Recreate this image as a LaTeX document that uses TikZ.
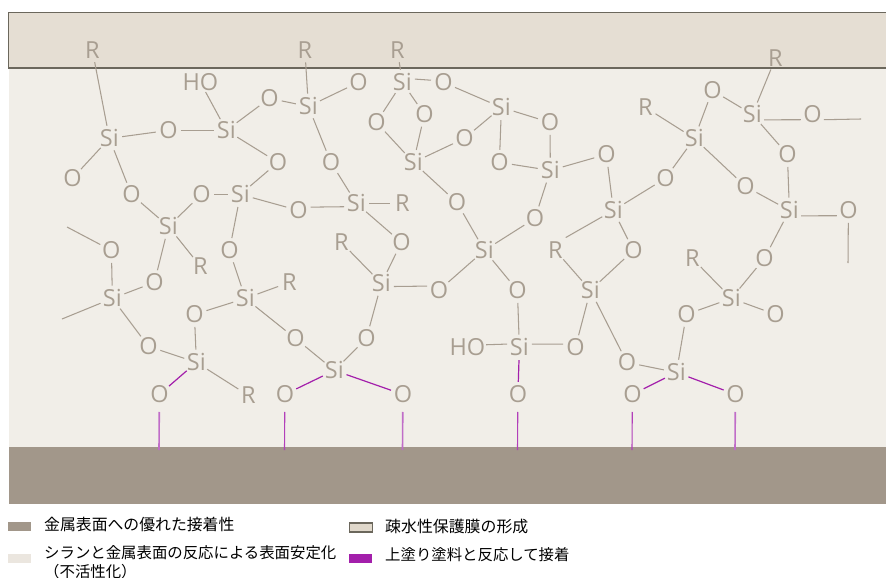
\documentclass[tikz,border=0pt]{standalone}
\usepackage{fontspec}
\setmainfont{Open Sans}
\newfontfamily\jpf{Noto Sans CJK JP}
\definecolor{chemc}{HTML}{A89E91}
\definecolor{pur}{HTML}{A31FAB}
\definecolor{purl}{HTML}{C06DC8}
\definecolor{purm}{HTML}{B23FBA}
\definecolor{bodyc}{HTML}{F1EEE8}
\definecolor{topc}{HTML}{E5DED3}
\definecolor{edgec}{HTML}{6B675C}
\definecolor{basec}{HTML}{A2978A}
\definecolor{sw2}{HTML}{EBE6DF}
\definecolor{sw3}{HTML}{E0D8CB}
\begin{document}
\begin{tikzpicture}[x=1pt,y=-1pt,
  chem/.style={circle,inner sep=0pt,outer sep=0pt,minimum size=24pt,xshift=0.4pt,yshift=-0.4pt,text=chemc,font=\fontsize{23.5}{25}\selectfont},
  chemw/.style={rectangle,inner sep=1pt,outer sep=0pt,xshift=0.4pt,yshift=-0.4pt,text=chemc,font=\fontsize{23.5}{25}\selectfont},
  bond/.style={draw=chemc,line width=1.05pt},
  pbond/.style={draw=pur,line width=1.2pt},
  legt/.style={anchor=west,inner sep=0pt,font=\jpf\fontsize{15.4}{20}\selectfont,text=black},
  swatch/.style={minimum width=23pt,minimum height=9pt,inner sep=0pt,outer sep=0pt,anchor=north west}]
\path[use as bounding box] (0,0) rectangle (886,578);
\fill[bodyc] (9,68) rectangle (886,447);
\filldraw[fill=topc,draw=edgec,line width=1.2pt] (8.5,12.5) rectangle (890,68);
\fill[basec] (9,447) rectangle (886,504);
% silicon
\foreach \n/\x/\y in {a1/109/138,a2/226/130,a3/308/106,a4/402/82,a5/240/194,a6/356/203,a7/168/226,a8/381/283,a9/245/298,a10/112/298,a11/196/362,a12/334/370,b1/484/250,b2/519/347,b3/590/290,b4/613/210,b5/550/170,b6/501/107,b7/413/162,c1/694/138,c2/752/114,c3/789/210,c4/731/298,c5/676/372}
  \node[chem] (\n) at (\x,\y) {Si};
% oxygen
\foreach \n/\x/\y in {o1/168/130,o2/72/178,o3/131/194,o4/269/98,o5/277.5/162,o6/358/82,o7/330.5/162,o8/443/82,o9/376/122,o10/424/114,o11/464/138,o12/456.5/202,o13/549.5/122,o14/499/162,o15/606/154,o16/534.5/218,o17/665/178,o18/633/250,o19/575/347,o20/626.5/362,o21/438.5/290,o22/517/290,o23/201/194,o24/298/210,o25/229/250,o26/401/242,o27/366/338,o28/154/282,o29/111/250,o30/148/346,o31/194/314,o32/295/338,o33/712/90,o34/745/186,o35/812/114,o36/787/154,o37/848/210,o38/764/258,o39/686/314,o40/775/314,p1/159/394,p2/284.5/394,p3/402.5/394,p4/517.5/394,p5/632/394,p6/735/394}
  \node[chem] (\n) at (\x,\y) {O};
% R groups
\foreach \n/\x/\y in {r1/92/50,r2/304.5/50,r3/397/50,r4/402/203,r5/200/266,r6/341/242,r7/289/282,r8/248/395,r9/555/250,r10/645/107,r11/775/58,r12/692/258}
  \node[chem] (\n) at (\x,\y) {R};
\node[chemw] (h1) at (200,82) {HO};
\node[chemw] (h2) at (467,347) {HO};
\coordinate (f1) at (67,227);
\coordinate (f2) at (62,319);
\coordinate (f3) at (861,119);
\coordinate (f4) at (848,263);
\foreach \n/\x in {1/159,2/284.5,3/402.5,4/517.5,5/632,6/735}
  \coordinate (s\n) at (\x,450);
% bonds
\foreach \a/\b in {r1/a1,a1/o1,o1/a2,a1/o2,a1/o3,o3/a7,a2/h1,a2/o4,o4/a3,a2/o5,o5/a5,a3/r2,a3/o6,a3/o7,o7/a6,a4/r3,o8/b6,a4/o9,o9/b7,a4/o10,o10/b7,b7/o11,o11/b6,b7/o12,o12/b1,b6/o13,o13/b5,b6/o14,o14/b5,b5/o15,o15/b4,b5/o16,o16/b1,b4/o17,o17/c1,r9/b3,b4/o18,o18/b3,b3/o20,o20/c5,b3/o19,b1/o21,b1/o22,o22/b2,a5/o23,o23/a7,a5/o24,a5/o25,o25/a9,a6/r4,a6/o26,o26/a8,a8/r6,a8/o27,o27/a12,a7/r5,a7/o28,o28/a10,o29/a10,o29/f1,a10/f2,a10/o30,o30/a11,a9/r7,a9/o31,o31/a11,a9/o32,o32/a12,a11/r8,c1/r10,c1/o33,o33/c2,c1/o34,o34/c3,c2/r11,c2/o36,o36/c3,c3/o38,o38/c4,c4/r12,c4/o39,o39/c5,c4/o40,o37/f4}
  \draw[bond] (\a) -- (\b);
\draw[bond] (c2.-25) -- (o35.-155);
\draw[bond] (o35.-25) -- (f3);
\draw[bond] (c3.-25) -- (o37.-155);
\draw[bond] (a8.-14) -- (o21.160);
\draw[bond] (o24.15) -- (a6.-165);
\draw[bond] (h2.8) -- (b2.165);
\draw[bond] (b2.15) -- (o19.165);
\draw[bond] (a4.15) -- (o8.170);
\draw[bond,shorten >=5pt] (b4) -- (r9.60);
% purple
\foreach \a/\b in {a11/p1,a12/p2,a12/p3,b2/p4,c5/p5,c5/p6}
  \draw[pbond] (\a) -- (\b);
\draw[draw=purl,line width=1.6pt,shorten <=5pt] (p1) -- (s1);
\draw[draw=purm,line width=1.1pt,shorten <=5pt] (p2) -- (s2);
\draw[draw=purl,line width=1.6pt,shorten <=5pt] (p3) -- (s3);
\draw[draw=purm,line width=1.1pt,shorten <=5pt] (p4) -- (s4);
\draw[draw=purm,line width=1.1pt,shorten <=5pt] (p5) -- (s5);
\draw[draw=purl,line width=1.6pt,shorten <=5pt] (p6) -- (s6);
% legend
\node[swatch,fill=basec] (k1) at (8,522) {};
\node[swatch,fill=sw2] (k2) at (8,554) {};
\node[swatch,fill=sw3,draw=edgec,line width=1.2pt] (k3) at (349.5,523) {};
\node[swatch,fill=pur] (k4) at (349,554) {};
\node[legt,font=\jpf\fontsize{15.85}{20}\selectfont] (t1) at (44,524) {金属表面への優れた接着性};
\node[legt] (t2) at (44,553) {シランと金属表面の反応による表面安定化};
\node[legt] (t2b) at (44,572) {（不活性化）};
\node[legt,font=\jpf\fontsize{15.9}{20}\selectfont] (t3) at (385,526) {疎水性保護膜の形成};
\node[legt] (t4) at (385,555) {上塗り塗料と反応して接着};
\end{tikzpicture}
\end{document}
